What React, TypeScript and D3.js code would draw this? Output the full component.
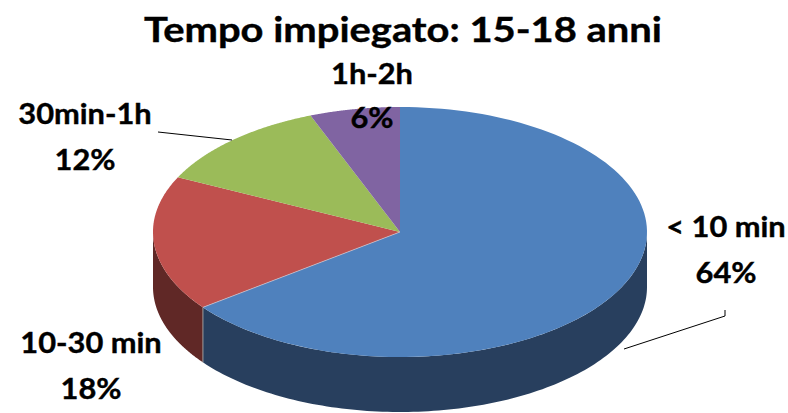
import React from "react";
import * as d3 from "d3";

const categories = ["< 10 min", "10-30 min", "30min-1h", "1h-2h"];
const values = [64.7, 17.5, 11.9, 5.9];
const percentLabels = ["64%", "18%", "12%", "6%"];
const topColors = ["#4F81BD", "#C0504D", "#9BBB59", "#8064A2"];
const sideColors = ["#283F5E", "#602826", "", ""];
const title = "Tempo impiegato: 15-18 anni";

const W = 788, H = 413;
const cx = 400, cy = 232, rx = 247, ry = 125, depth = 55;

export default function App() {
  const pie = d3.pie<number>().sort(null).startAngle(0).endAngle(2 * Math.PI);
  const arcs = pie(values);
  const pt = (a: number) => [cx + rx * Math.sin(a), cy - ry * Math.cos(a)];
  const slicePath = (a0: number, a1: number) => {
    const line = d3.path();
    line.moveTo(cx, cy);
    const n = 120;
    for (let i = 0; i <= n; i++) {
      const a = a0 + ((a1 - a0) * i) / n;
      const [x, y] = pt(a);
      line.lineTo(x, y);
    }
    line.closePath();
    return line.toString();
  };
  const sidePath = (a0: number, a1: number) => {
    const s = Math.max(a0, Math.PI / 2);
    const e = Math.min(a1, 1.5 * Math.PI);
    if (e <= s) return "";
    const line = d3.path();
    const n = 120;
    for (let i = 0; i <= n; i++) {
      const a = s + ((e - s) * i) / n;
      const [x, y] = pt(a);
      if (i === 0) line.moveTo(x, y);
      else line.lineTo(x, y);
    }
    for (let i = n; i >= 0; i--) {
      const a = s + ((e - s) * i) / n;
      const [x, y] = pt(a);
      line.lineTo(x, y + depth);
    }
    line.closePath();
    return line.toString();
  };
  const labelStyle = { fontFamily: "Lato, sans-serif", fontWeight: 700, fontSize: 28.5, fill: "#000", stroke: "#000", strokeWidth: 0.4, textAnchor: "middle" as const };
  const labels = [
    { x: 726, y1: 237, y2: 283 },
    { x: 91, y1: 353, y2: 399 },
    { x: 85, y1: 124, y2: 170 },
    { x: 372, y1: 84, y2: 128 },
  ];
  const sx = 1.08;
  const seam = arcs[0].endAngle;
  const [sxp, syp] = pt(seam);
  return (
    <svg width={W} height={H} style={{ position: "absolute", left: 0, top: 0, background: "#fff" }}>
      {arcs.map((a, i) => (sideColors[i] ? <path key={"s" + i} d={sidePath(a.startAngle, a.endAngle)} fill={sideColors[i]} /> : null))}
      {arcs.map((a, i) => (
        <path key={"t" + i} d={slicePath(a.startAngle, a.endAngle)} fill={topColors[i]} />
      ))}
      <line x1={sxp} y1={syp} x2={sxp} y2={syp + depth} stroke="#9a9a9a" strokeWidth={1} />
      <line x1={cx} y1={cy} x2={sxp} y2={syp} stroke="#c9c9d6" strokeWidth={0.7} />
      <polyline points="725,310 725,316 624,349" fill="none" stroke="#000" strokeWidth={1} />
      <polyline points="158,132 232,140" fill="none" stroke="#000" strokeWidth={1} />
      <text transform={`translate(403,42) scale(1.14,1)`} style={{ fontFamily: "Lato, sans-serif", fontWeight: 700, fontSize: 35, fill: "#000", stroke: "#000", strokeWidth: 0.4, textAnchor: "middle" }}>{title}</text>
      {labels.map((l, i) => (
        <g key={i}>
          <text transform={`translate(${l.x},${l.y1}) scale(${sx},1)`} style={labelStyle}>{categories[i]}</text>
          <text transform={`translate(${l.x},${l.y2}) scale(${sx},1)`} style={labelStyle}>{percentLabels[i]}</text>
        </g>
      ))}
    </svg>
  );
}
